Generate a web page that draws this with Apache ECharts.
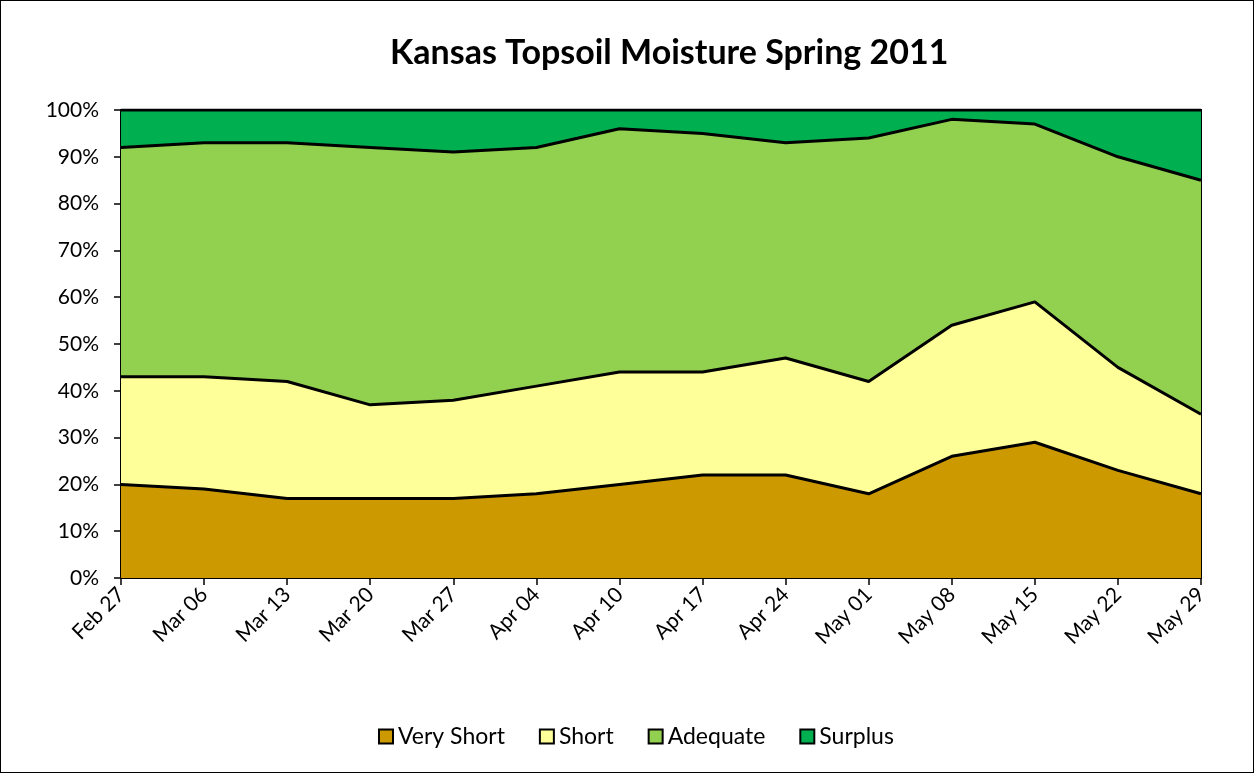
<!DOCTYPE html>
<html>
<head>
<meta charset="utf-8">
<script src="https://cdn.jsdelivr.net/npm/echarts@6/dist/echarts.min.js"></script>
<style>
  html, body { margin: 0; padding: 0; background: #fff; }
  #chart { width: 1254px; height: 773px; box-sizing: border-box; border: 1px solid #000; }
</style>
</head>
<body>
<div id="chart"></div>
<script>
// week labels
const weeks = ["Feb 27", "Mar 06", "Mar 13", "Mar 20", "Mar 27", "Apr 04", "Apr 10",
  "Apr 17", "Apr 24", "May 01", "May 08", "May 15", "May 22", "May 29"];

// percent of topsoil in each class
const veryShort = [20, 19, 17, 17, 17, 18, 20, 22, 22, 18, 26, 29, 23, 18];
const short = [23, 24, 25, 20, 21, 23, 24, 22, 25, 24, 28, 30, 22, 17];
const adequate = [49, 50, 51, 55, 53, 51, 52, 51, 46, 52, 44, 38, 45, 50];
const surplus = [8, 7, 7, 8, 9, 8, 4, 5, 7, 6, 2, 3, 10, 15];

const font = "Lato, 'Open Sans', sans-serif";
const chart = echarts.init(document.getElementById("chart"));

function area(name, data, color) {
  return {
    name: name,
    type: "line",
    stack: "total",
    data: data,
    symbol: "none",
    lineStyle: { color: "#000", width: 3 },
    itemStyle: { color: color, borderColor: "#000", borderWidth: 2 },
    areaStyle: { color: color, opacity: 1 },
  };
}

chart.setOption({
  animation: false,
  textStyle: { fontFamily: font },
  title: {
    text: "Kansas Topsoil Moisture Spring 2011",
    left: 384,
    top: 30,
    textStyle: { fontFamily: font, fontSize: 34, fontWeight: "bold", color: "#000" },
  },
  legend: {
    bottom: 19,
    left: 372,
    itemWidth: 14,
    itemHeight: 14,
    itemGap: 34,
    icon: "rect",
    textStyle: { fontFamily: font, fontSize: 23, color: "#000" },
    data: ["Very Short", "Short", "Adequate", "Surplus"],
  },
  grid: {
    left: 120, right: 52, top: 109, bottom: 194,
    show: true, borderColor: "#000", borderWidth: 2, backgroundColor: "transparent",
  },
  xAxis: {
    type: "category",
    data: weeks,
    boundaryGap: false,
    axisLine: { lineStyle: { color: "#000", width: 2 } },
    axisTick: { show: true, length: 7, lineStyle: { color: "#000", width: 1.5 } },
    axisLabel: { rotate: 45, fontSize: 21, color: "#000", margin: 13, fontFamily: font },
  },
  yAxis: {
    type: "value",
    min: 0,
    max: 100,
    interval: 10,
    axisLine: { show: true, lineStyle: { color: "#000", width: 2 } },
    axisTick: { show: true, length: 7, lineStyle: { color: "#000", width: 1.5 } },
    splitLine: { show: false },
    axisLabel: { formatter: "{value}%", fontSize: 21, color: "#000", margin: 22, fontFamily: font },
  },
  series: [
    area("Very Short", veryShort, "#cc9900"),
    area("Short", short, "#ffff99"),
    area("Adequate", adequate, "#92d050"),
    area("Surplus", surplus, "#00b050"),
  ],
});
</script>
</body>
</html>
